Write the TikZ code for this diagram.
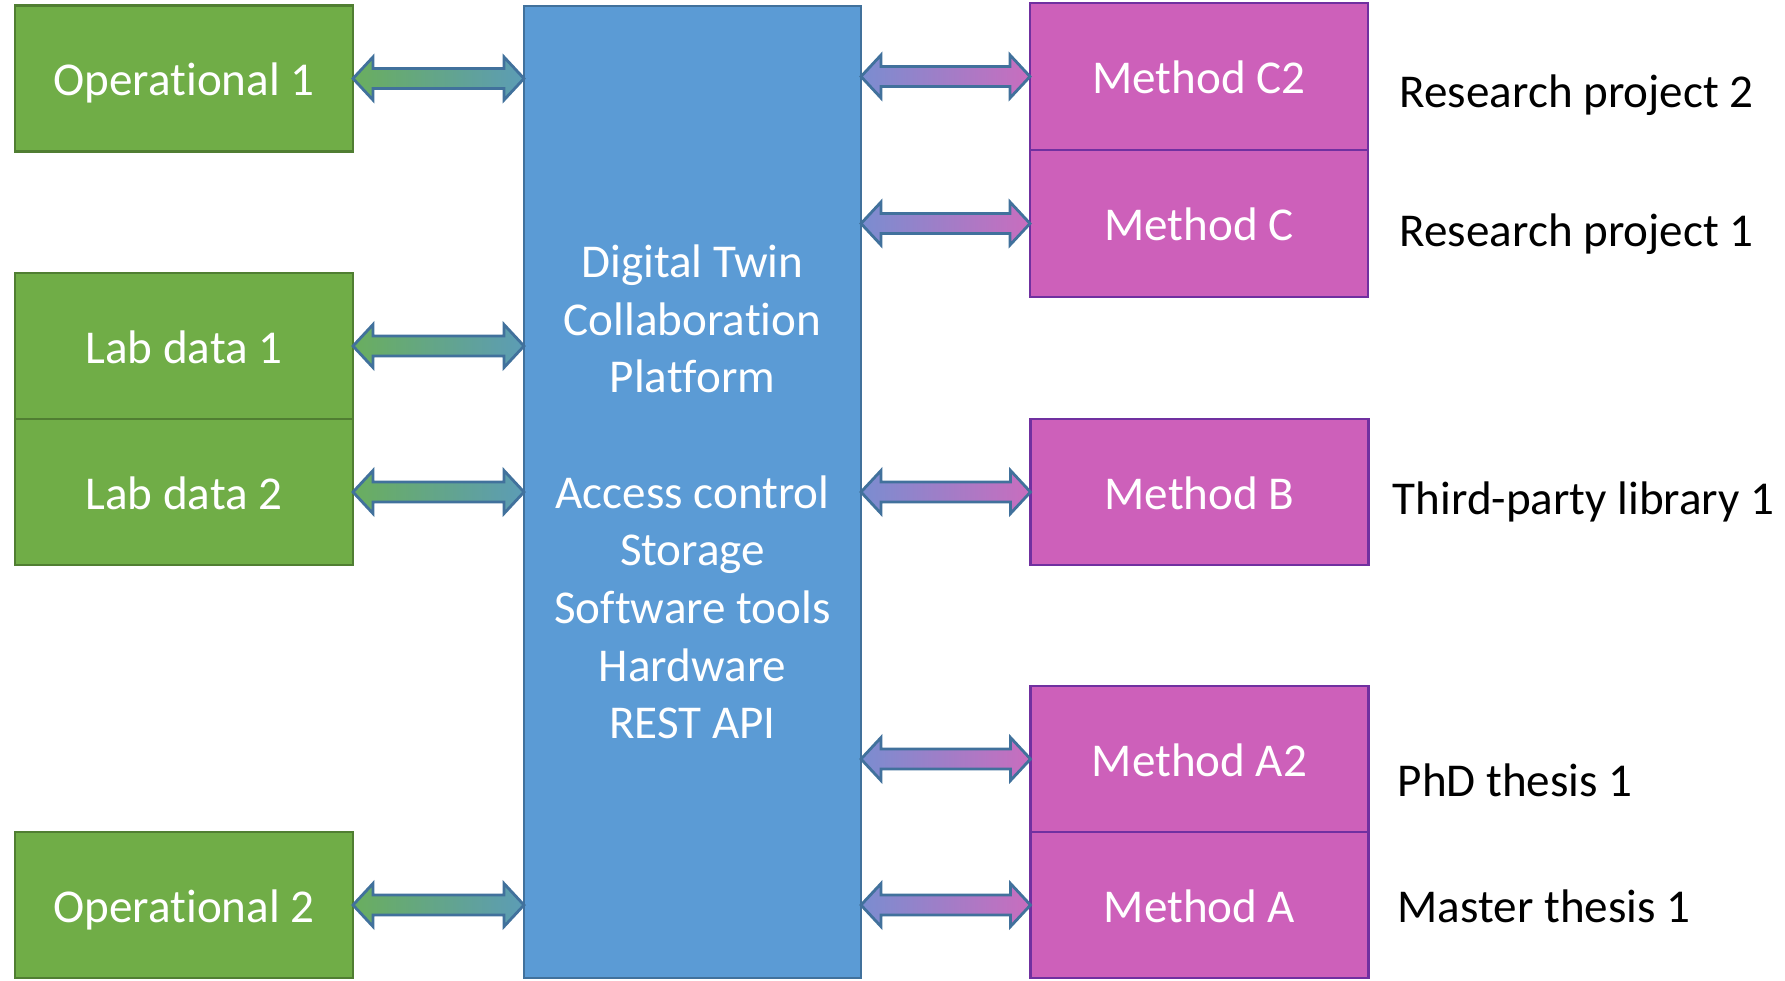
\documentclass[tikz,border=0pt]{standalone}
\usepackage{fontspec}
\setmainfont{Carlito}[Ligatures=NoCommon]
\usepackage{xcolor}
\usetikzlibrary{positioning,calc}
\definecolor{opgreen}{HTML}{70AD47}
\definecolor{opgreenline}{HTML}{507E32}
\definecolor{platblue}{HTML}{5B9BD5}
\definecolor{platline}{HTML}{41719C}
\definecolor{methpink}{HTML}{CD60BA}
\definecolor{methline}{HTML}{7030A0}
\definecolor{arrgreen}{HTML}{6AAE5E}
\definecolor{arrteal}{HTML}{5C9CB6}
\definecolor{arrblue}{HTML}{7A8DD0}
\definecolor{arrpink}{HTML}{C96DBE}

\begin{document}
\begin{tikzpicture}[auto, node distance=2cm,
    every node/.style={font=\fontsize{13.4}{16.4}\selectfont},
    box/.style={draw, line width=0.8pt, rectangle, inner sep=0pt, outer sep=0pt,
      minimum width=3.38cm, minimum height=1.46cm, text=white},
    databox/.style={box, fill=opgreen, draw=opgreenline, text height=9.8pt, text depth=0pt},
    methbox/.style={box, fill=methpink, draw=methline, text height=9.8pt, text depth=0pt},
    lbl/.style={anchor=west, text=black, inner sep=0pt, text height=9.8pt, text depth=0pt},
    blockarrow/.style={draw=platline, line width=0.8pt, line join=miter,
      to path={let \p1=(\tikztostart), \p2=(\tikztotarget) in
        (\x1,\y1) -- (\x1+0.2cm,\y1+0.215cm) -- (\x1+0.2cm,\y1+0.1cm)
        -- (\x2-0.2cm,\y1+0.1cm) -- (\x2-0.2cm,\y1+0.215cm) -- (\x2,\y1)
        -- (\x2-0.2cm,\y1-0.215cm) -- (\x2-0.2cm,\y1-0.1cm)
        -- (\x1+0.2cm,\y1-0.1cm) -- (\x1+0.2cm,\y1-0.215cm) -- cycle}},
    leftarrow/.style={blockarrow, left color=arrgreen, right color=arrteal},
    rightarrow/.style={blockarrow, left color=arrblue, right color=arrpink}]
    \useasboundingbox (0,0) rectangle (17.85,-9.80);

    \node [box, fill=platblue, draw=platline, minimum width=3.37cm, minimum height=9.72cm, align=center] (Platform) at (6.925,-4.92)
      {Digital Twin\\Collaboration\\Platform\\[16.4pt]Access control\\Storage\\Software tools\\Hardware\\REST API};

    \node [databox] (Op1) at (1.84,-0.785) {Operational 1};
    \node [databox] (Lab1) at (1.84,-3.46) {Lab data 1};
    \node [databox, below=0pt of Lab1] (Lab2) {Lab data 2};
    \node [databox] (Op2) at (1.84,-9.05) {Operational 2};

    \node [methbox, minimum height=1.47cm] (MethC2) at (11.99,-0.765) {Method C2};
    \node [methbox, minimum height=1.47cm, below=0pt of MethC2] (MethC) {Method C};
    \node [methbox] (MethB) at (11.995,-4.92) {Method B};
    \node [methbox] (MethA2) at (11.995,-7.59) {Method A2};
    \node [methbox, below=0pt of MethA2] (MethA) {Method A};

    \node [lbl] (Proj2) at (13.99,-0.90) {Research project 2};
    \node [lbl] (Proj1) at (13.99,-2.29) {Research project 1};
    \node [lbl] (Lib1) at (13.92,-4.97) {Third-party library 1};
    \node [lbl] (Phd1) at (13.97,-7.79) {PhD thesis 1};
    \node [lbl] (Msc1) at (13.97,-9.05) {Master thesis 1};

    \draw [leftarrow] (Op1.east) to (Op1.east -| Platform.west);
    \draw [leftarrow] (Lab1.east) to (Lab1.east -| Platform.west);
    \draw [leftarrow] (Lab2.east) to (Lab2.east -| Platform.west);
    \draw [leftarrow] (Op2.east) to (Op2.east -| Platform.west);

    \draw [rightarrow] (Platform.east |- MethC2.west) to (MethC2.west);
    \draw [rightarrow] (Platform.east |- MethC.west) to (MethC.west);
    \draw [rightarrow] (Platform.east |- MethB.west) to (MethB.west);
    \draw [rightarrow] (Platform.east |- MethA2.west) to (MethA2.west);
    \draw [rightarrow] (Platform.east |- MethA.west) to (MethA.west);

\end{tikzpicture}
\end{document}
